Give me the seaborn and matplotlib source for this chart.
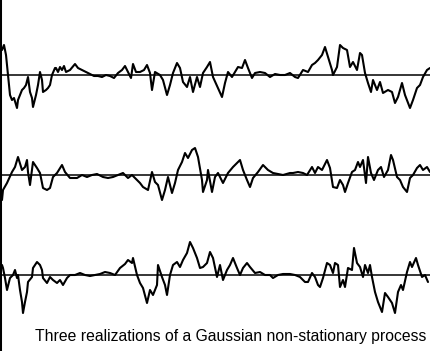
import numpy as np
import pandas as pd
import matplotlib
matplotlib.use("Agg")
import matplotlib.pyplot as plt
import seaborn as sns

# x positions and values (relative to each realization's zero line, up = positive)
x1 = [2, 4, 6, 8, 10, 12, 14, 17, 18, 20, 22, 24, 26, 28, 30, 32, 33, 36, 38, 40, 42, 43, 46, 48, 50, 52, 55, 56, 58, 60, 62, 64, 66, 70, 75, 78, 82, 86, 90, 94, 98, 102, 106, 110, 114, 118, 122, 125, 128, 131, 133, 136, 140, 144, 147, 150, 152, 155, 160, 163, 167, 170, 173, 177, 180, 183, 187, 190, 193, 197, 200, 203, 207, 210, 213, 218, 222, 225, 228, 232, 235, 238, 242, 245, 248, 252, 255, 260, 265, 270, 275, 280, 285, 290, 295, 298, 303, 308, 312, 315, 318, 322, 325, 328, 332, 333, 337, 340, 343, 347, 350, 353, 357, 360, 362, 365, 368, 371, 373, 377, 380, 383, 388, 392, 395, 398, 402, 405, 410, 413, 417, 420, 423, 427, 430]
v1 = [25, 30, 20, 0, -20, -25, -23, -33, -25, -20, -15, -13, -10, -2, -17, -23, -32, -20, -10, 3, -5, -17, -15, -13, -10, 0, 7, 7, 3, 8, 5, 9, 3, 5, 11, 7, 5, 3, 1, -1, -1, -2, 0, -1, -3, 2, 5, 9, 3, -3, 11, 3, 3, 5, 10, 2, -15, 3, 0, -5, -20, -10, 2, 12, 7, -7, -12, -2, -17, -2, -12, 2, 8, 13, -2, -13, -22, -8, 3, -2, 3, 8, 7, 15, 7, -3, 2, 3, 2, -2, 1, 0, 0, 2, -2, -3, 5, 3, 10, 12, 15, 20, 28, 18, 5, 0, 8, 30, 27, 25, 8, 13, 5, 22, 20, 2, -8, -17, -5, -15, -7, -18, -15, -17, -28, -22, -8, -20, -33, -25, -13, -10, -2, 5, 7]

x2 = [2, 3, 7, 12, 15, 18, 22, 25, 27, 28, 30, 33, 37, 40, 43, 47, 50, 53, 57, 62, 65, 70, 77, 82, 87, 92, 97, 103, 108, 113, 118, 123, 128, 132, 137, 140, 143, 148, 152, 155, 158, 162, 165, 168, 172, 175, 178, 182, 185, 188, 192, 195, 198, 202, 203, 207, 208, 212, 215, 218, 223, 228, 233, 237, 240, 243, 247, 250, 253, 258, 263, 268, 273, 278, 283, 290, 293, 298, 303, 307, 312, 315, 318, 322, 327, 330, 333, 337, 340, 343, 345, 348, 352, 355, 358, 360, 363, 366, 368, 371, 374, 378, 381, 384, 388, 391, 393, 397, 400, 403, 407, 410, 413, 417, 420, 423, 427, 430]
v2 = [-25, -15, -8, 3, 8, 18, 5, 8, 15, 3, -10, 13, 7, 2, -13, -15, -13, -2, 2, 10, 3, -3, -3, 0, -2, 0, 1, -2, -3, -2, 0, 2, -3, 0, -5, -8, -12, -15, 3, -7, -10, -25, -15, -2, -18, -8, 5, 13, 22, 17, 25, 27, 18, -5, -17, -5, 5, -17, -2, 2, -8, 2, 8, 12, 15, 5, -5, -12, -3, 3, 10, 5, 2, 1, 0, 2, 2, 3, 2, 0, 8, 2, 8, 5, 15, 7, -12, -13, -5, -10, -17, -8, 3, 5, 13, 8, 15, -8, 18, 2, -5, 5, 8, -2, 5, 20, 15, -2, -5, -12, -17, -3, 0, 7, 10, 5, 8, 3]

x3 = [2, 3, 5, 7, 10, 13, 15, 17, 18, 20, 22, 23, 25, 27, 28, 32, 33, 37, 40, 42, 43, 47, 50, 53, 57, 60, 63, 67, 70, 75, 80, 85, 90, 95, 100, 105, 110, 115, 120, 125, 128, 132, 133, 137, 140, 143, 147, 150, 153, 157, 158, 162, 165, 167, 170, 173, 177, 180, 183, 187, 190, 193, 197, 200, 203, 207, 210, 213, 217, 220, 223, 227, 230, 233, 237, 240, 243, 247, 250, 255, 260, 265, 270, 273, 278, 283, 290, 295, 300, 305, 308, 312, 315, 318, 320, 323, 327, 330, 333, 335, 338, 340, 343, 345, 348, 352, 354, 357, 360, 363, 365, 368, 370, 372, 375, 378, 382, 385, 388, 392, 395, 398, 401, 403, 407, 410, 412, 416, 418, 422, 425, 428]
v3 = [10, 7, -3, -15, -3, 0, 5, -3, 0, -15, -27, -38, -27, -17, -7, -2, 7, 13, 10, 5, -3, -8, -2, -5, -8, -5, -10, -3, 0, 0, 2, 0, -1, 0, 1, 3, 2, 0, 7, 11, 15, 12, 17, 0, -8, -13, -28, -15, -20, -10, 10, -2, -10, -20, 0, 10, 13, 8, 15, 22, 33, 27, 17, 7, 8, 12, 23, 17, -2, 10, -5, 5, 10, 17, 7, 0, 7, 12, 8, 2, 3, 0, 0, -3, 0, 1, 1, 0, -2, -7, -7, 2, -2, -10, -12, -3, 12, 10, 2, 12, 10, -12, -5, -12, 7, 5, 27, 12, 8, -2, 10, 2, 10, -2, -17, -27, -37, -18, -22, -28, -38, -17, -10, -15, 3, 13, 8, 17, 10, -2, 0, -7]

caption = "Three realizations of a Gaussian non-stationary process"

# layout: zero-line positions in pixel rows (y axis = -pixel row)
bases = [-75, -175, -275]

frames = []
for name, xs, vs, b in [("r1", x1, v1, bases[0]), ("r2", x2, v2, bases[1]), ("r3", x3, v3, bases[2])]:
    frames.append(pd.DataFrame({"x": xs, "y": np.array(vs) + b, "run": name, "order": range(len(xs))}))
df = pd.concat(frames, ignore_index=True)

sns.set_theme(style="white")
plt.rcParams['font.family'] = ['Liberation Sans', 'DejaVu Sans']

fig = plt.figure(figsize=(4.31, 3.51), dpi=100)
ax = fig.add_axes([0, 0, 1, 1])
sns.lineplot(data=df, x="x", y="y", hue="run", units="run", estimator=None, sort=False,
             palette=["black", "black", "black"], linewidth=1.5, legend=False, ax=ax)
for b in bases:
    ax.axhline(b, color="black", linewidth=1.1, zorder=3)

ax.set_xlim(0, 431)
ax.set_ylim(-351, 0)
for s in ["top", "right", "bottom"]:
    ax.spines[s].set_visible(False)
ax.spines["left"].set_color("black")
ax.spines["left"].set_linewidth(2.2)
ax.set_xticks([])
ax.set_yticks([])
ax.set_xlabel("")
ax.set_ylabel("")
ax.text(231, -337, caption, ha="center", va="center", fontsize=11.3, color="black")

fig.savefig("out.png", dpi=100)
